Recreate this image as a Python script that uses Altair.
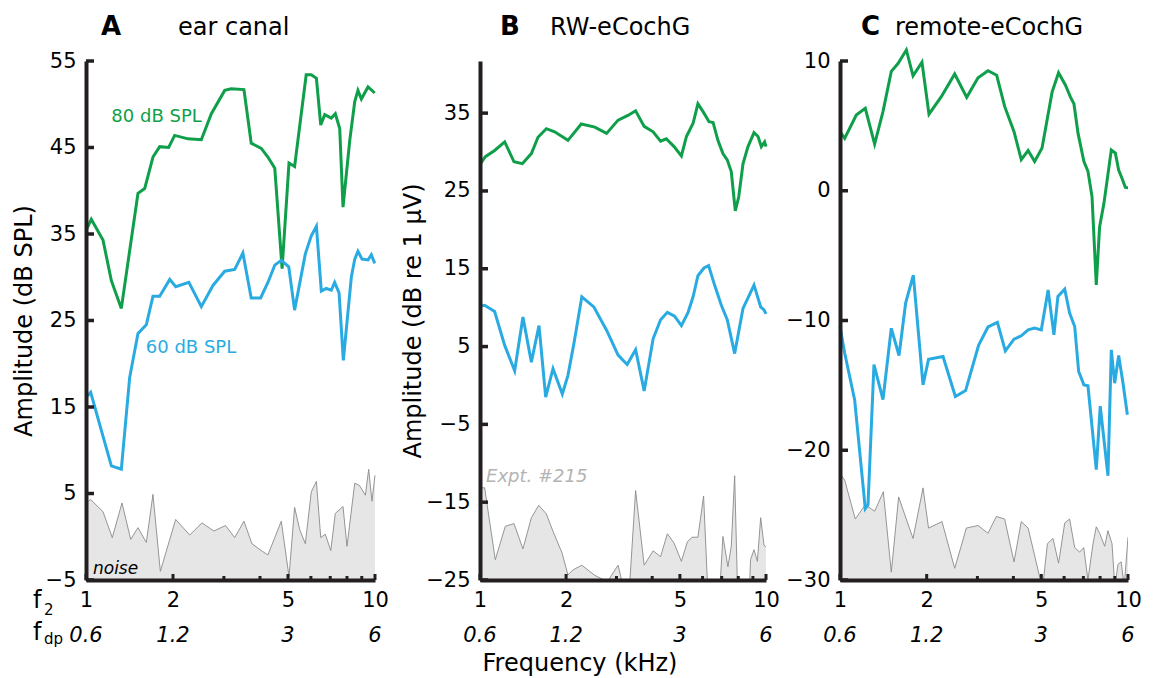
import altair as alt
import pandas as pd

FONT = "DejaVu Sans"
GREEN = "#0f9f4a"
BLUE = "#29abe2"
AXIS = "#231f20"
NOISE_FILL = "#e6e6e6"
NOISE_LINE = "#8a8a8a"

# ---------------- Panel A: ear canal (dB SPL) ----------------
A_green_f = [1.00, 1.043, 1.145, 1.224, 1.325, 1.513, 1.596, 1.705, 1.799, 1.932, 2.027, 2.254, 2.506, 2.715,
             3.02, 3.18, 3.52, 3.73, 4.04, 4.26, 4.50, 4.77, 5.04, 5.27, 5.78, 6.02, 6.27, 6.49, 6.70, 7.06,
             7.29, 7.55, 7.75, 8.18, 8.51, 8.73, 8.97, 9.46, 9.98]
A_green_v = [35.4, 36.7, 34.3, 29.6, 26.4, 39.7, 40.25, 43.9, 45.1, 45.0, 46.4, 46.0, 45.9, 48.9,
             51.6, 51.8, 51.7, 45.5, 44.9, 43.9, 42.6, 31.0, 43.2, 42.8, 53.4, 53.4, 53.0, 47.6, 48.8, 48.4,
             48.9, 47.2, 38.1, 45.85, 50.3, 51.6, 50.6, 52.0, 51.3]
A_blue_f = [1.00, 1.038, 1.13, 1.224, 1.325, 1.416, 1.513, 1.617, 1.705, 1.799, 1.949, 2.044, 2.27, 2.506,
            2.75, 3.02, 3.27, 3.49, 3.73, 4.02, 4.26, 4.50, 4.74, 5.03, 5.27, 5.74, 6.02, 6.27, 6.52, 6.78,
            7.06, 7.25, 7.51, 7.77, 8.28, 8.51, 8.73, 9.02, 9.46, 9.71, 9.98]
A_blue_v = [16.1, 16.7, 12.3, 8.2, 7.8, 18.4, 23.5, 24.5, 27.8, 27.8, 29.75, 28.9, 29.4, 26.6,
            29.05, 30.7, 30.9, 32.8, 27.6, 27.6, 29.4, 31.4, 31.95, 31.2, 26.2, 32.7, 34.8, 35.9, 28.4, 28.7,
            28.5, 29.4, 28.2, 20.4, 30.0, 32.1, 33.0, 32.1, 32.0, 32.6, 31.6]
A_noise_f = [1.00, 1.038, 1.145, 1.233, 1.332, 1.428, 1.513, 1.617, 1.705, 1.808, 2.043, 2.285, 2.52, 2.77,
             3.04, 3.27, 3.52, 3.75, 4.04, 4.26, 4.74, 5.04, 5.27, 5.49, 5.74, 6.02, 6.27, 6.49, 6.73, 7.03,
             7.29, 7.75, 8.0, 8.51, 8.85, 9.26, 9.51, 9.76, 10.0]
A_noise_v = [3.9, 4.3, 2.9, -0.1, 3.9, -0.3, 1.05, -0.66, 4.9, -4.0, 2.0, 0.2, 1.6, 0.66,
             1.3, -0.1, 1.8, -0.8, -1.6, -2.1, 1.8, -4.6, 3.4, 0.8, -0.8, 5.2, 6.4, -0.1, 0.3, -1.6,
             2.7, 3.5, -1.1, 6.2, 5.9, 4.8, 7.8, 4.1, 7.1]

# ---------------- Panel B: RW-eCochG (dB re 1 uV) ----------------
B_green_f = [1.0, 1.044, 1.125, 1.22, 1.315, 1.406, 1.512, 1.595, 1.706, 1.824, 2.03, 2.26, 2.52, 2.77,
             3.04, 3.29, 3.50, 3.75, 4.03, 4.28, 4.48, 4.77, 5.06, 5.27, 5.56, 5.78, 6.07, 6.32, 6.53, 6.79,
             7.07, 7.32, 7.56, 7.81, 8.03, 8.31, 8.65, 9.08, 9.38, 9.63, 9.89, 10.0]
B_green_v = [28.4, 29.4, 30.2, 31.3, 28.75, 28.5, 29.8, 31.9, 33.0, 32.6, 31.5, 33.6, 33.2, 32.4,
             34.1, 34.7, 35.3, 33.3, 32.6, 31.4, 31.7, 30.7, 29.5, 32.0, 33.7, 36.2, 35.0, 33.9, 33.8, 31.5,
             29.8, 29.0, 27.5, 22.45, 24.25, 28.5, 30.7, 32.5, 32.0, 30.7, 31.3, 30.7]
B_blue_f = [1.0, 1.038, 1.125, 1.22, 1.322, 1.413, 1.512, 1.608, 1.697, 1.80, 1.94, 2.03, 2.13, 2.27,
            2.50, 2.77, 3.04, 3.27, 3.50, 3.75, 4.03, 4.28, 4.52, 4.79, 5.06, 5.34, 5.56, 5.78, 6.07, 6.30,
            6.61, 6.98, 7.32, 7.77, 8.31, 8.61, 9.08, 9.58, 9.84, 10.0]
B_blue_v = [10.2, 10.3, 9.5, 5.15, 1.9, 8.8, 3.0, 7.7, -1.5, 2.15, -1.1, 1.3, 5.4, 11.4,
            10.1, 7.1, 3.9, 2.7, 4.6, -0.7, 6.0, 8.45, 9.4, 8.9, 7.7, 9.4, 11.4, 14.1, 15.1, 15.4,
            12.9, 10.3, 8.45, 4.1, 9.9, 11.1, 12.9, 10.1, 9.7, 9.2]
B_noise_f = [1.0, 1.038, 1.131, 1.226, 1.315, 1.413, 1.512, 1.604, 1.706, 1.80, 1.935, 2.03, 2.115, 2.27,
             2.52, 2.79, 3.04, 3.14, 3.24, 3.34, 3.50, 3.75, 4.03, 4.28, 4.52, 4.77, 5.06, 5.31, 5.51, 5.78,
             6.05, 6.24, 6.53, 6.92, 7.07, 7.36, 7.56, 7.77, 7.94, 8.31, 8.77, 8.83, 9.08, 9.33, 9.58, 9.84, 10.0]
B_noise_v = [-13.15, -13.15, -22.4, -18.1, -17.75, -21.0, -17.0, -15.4, -16.5, -18.75, -21.5, -24.35, -23.7, -23.1,
             -24.4, -25.2, -23.1, -25.3, -27.0, -25.3, -13.5, -23.1, -21.25, -22.0, -19.05, -20.25, -22.6, -20.1, -19.5, -19.5,
             -14.2, -25.3, -28.0, -25.3, -19.4, -23.3, -20.7, -11.6, -25.3, -28.0, -25.3, -22.4, -21.1, -22.6, -17.0, -20.5, -20.8]

# ---------------- Panel C: remote-eCochG ----------------
C_green_f = [1.0, 1.038, 1.139, 1.224, 1.319, 1.41, 1.507, 1.59, 1.70, 1.793, 1.926, 2.037, 2.248, 2.502,
             2.754, 3.015, 3.265, 3.50, 3.73, 4.02, 4.26, 4.50, 4.74, 5.03, 5.45, 5.74, 6.06, 6.32, 6.49, 6.71,
             7.03, 7.26, 7.50, 7.76, 7.97, 8.25, 8.75, 9.04, 9.28, 9.53, 9.79, 10.0]
C_green_v = [4.55, 4.04, 5.84, 6.35, 3.6, 6.1, 9.2, 9.8, 10.85, 8.85, 9.9, 5.9, 7.25, 9.0,
             7.2, 8.7, 9.25, 8.9, 6.5, 4.55, 2.4, 3.1, 2.25, 3.3, 7.6, 9.1, 8.15, 7.2, 6.7, 4.4,
             2.25, 1.5, -0.45, -7.26, -2.77, -0.97, 3.14, 2.9, 1.6, 0.96, 0.26, 0.24]
C_blue_f = [1.0, 1.038, 1.124, 1.224, 1.251, 1.312, 1.41, 1.507, 1.603, 1.69, 1.797, 1.942, 2.03, 2.279,
            2.515, 2.73, 3.03, 3.265, 3.52, 3.75, 4.02, 4.26, 4.50, 4.74, 5.0, 5.28, 5.53, 5.71, 6.03, 6.27,
            6.53, 6.74, 7.03, 7.26, 7.76, 8.01, 8.52, 8.75, 8.99, 9.28, 9.61, 9.95]
C_blue_v = [-10.46, -12.5, -16.1, -24.5, -24.2, -13.4, -16.1, -10.6, -12.7, -8.66, -6.5, -14.96, -12.98, -12.77,
            -15.86, -15.4, -11.9, -10.5, -10.15, -12.34, -11.44, -11.18, -10.72, -10.59, -10.72, -7.64, -11.1, -8.15, -7.59, -9.43,
            -10.46, -13.93, -14.96, -15.03, -21.5, -16.6, -21.97, -12.26, -14.83, -12.7, -14.83, -17.27]
C_noise_f = [1.0, 1.038, 1.13, 1.224, 1.319, 1.414, 1.507, 1.598, 1.793, 1.942, 2.03, 2.26, 2.502, 2.746,
             3.015, 3.265, 3.49, 3.73, 4.02, 4.26, 4.50, 4.94, 5.07, 5.25, 5.49, 5.74, 6.03, 6.27, 6.53, 6.79,
             7.02, 7.26, 7.56, 7.76, 7.97, 8.30, 8.52, 8.80, 9.0, 9.23, 9.47, 9.7, 10.0]
C_noise_v = [-21.8, -22.3, -25.3, -24.2, -24.7, -23.2, -29.4, -23.6, -26.8, -22.9, -26.0, -25.5, -29.1, -26.0,
             -25.8, -26.4, -25.1, -25.3, -28.6, -25.5, -26.0, -29.8, -30.3, -27.2, -26.8, -28.7, -25.6, -25.3, -27.5, -27.85,
             -27.5, -30.0, -27.2, -25.9, -26.4, -27.4, -26.2, -27.2, -30.5, -28.8, -28.6, -30.5, -26.7]

# axis tick values / labels
x_label_values = [1, 2, 5, 10]
x_minor_values = [3, 4, 6, 7, 8, 9]
fdp_labels = ["0.6", "1.2", "3", "6"]
A_yticks = [-5, 5, 15, 25, 35, 45, 55]
B_yticks = [-25, -15, -5, 5, 15, 25, 35]
C_yticks = [-30, -20, -10, 0, 10]

H = 519


def df(f, v):
    return pd.DataFrame({"f": f, "v": v})


def panel(width, xrange, ydomain, yticks, ytitle, titlepad, green, blue, noise,
          letter, letter_x, name, name_x, annotations=None, extra=None):
    xs = alt.Scale(type="log", domain=[1, 10], range=[0, xrange], nice=False)
    ys = alt.Scale(domain=ydomain, nice=False, zero=False)
    xaxis = alt.Axis(values=x_label_values, format="d", ticks=False, tickSize=0, grid=False,
                     domainColor=AXIS, domainWidth=4, labelFont=FONT, labelFontSize=21,
                     labelColor="black", labelPadding=9, labelFlush=False, labelOverlap=False,
                     title=None, zindex=1)
    yaxis_kw = dict(values=yticks, ticks=False, tickSize=0, grid=False, domainColor=AXIS, domainWidth=4,
                    labelFont=FONT, labelFontSize=21, labelColor="black", labelPadding=10,
                    labelFlush=False, labelOverlap=False, zindex=1)
    if ytitle:
        yaxis = alt.Axis(title=ytitle, titleFont=FONT, titleFontSize=24, titleFontWeight="normal",
                         titleColor="black", titlePadding=titlepad, **yaxis_kw)
    else:
        yaxis = alt.Axis(title=None, **yaxis_kw)
    X = alt.X("f:Q", scale=xs, axis=xaxis)
    Y = alt.Y("v:Q", scale=ys, axis=yaxis)

    ndf = df(*noise)
    area = alt.Chart(ndf).mark_area(clip=True, color=NOISE_FILL, opacity=1).encode(
        x=X, y=Y, y2=alt.datum(ydomain[0]))
    nline = alt.Chart(ndf).mark_line(clip=True, color=NOISE_LINE, strokeWidth=0.9).encode(x=X, y=Y)
    gline = alt.Chart(df(*green)).mark_line(color=GREEN, strokeWidth=3).encode(x=X, y=Y)
    bline = alt.Chart(df(*blue)).mark_line(color=BLUE, strokeWidth=3).encode(x=X, y=Y)

    ytk = alt.Chart(pd.DataFrame({"v": yticks})).mark_rule(color=AXIS, strokeWidth=3.5).encode(
        y=Y, x=alt.value(0), x2=alt.value(8))
    xmaj = alt.Chart(pd.DataFrame({"f": x_label_values})).mark_rule(color=AXIS, strokeWidth=3).encode(
        x=X, y=alt.value(H), y2=alt.value(H - 6))
    xmin = alt.Chart(pd.DataFrame({"f": x_minor_values})).mark_rule(color=AXIS, strokeWidth=3).encode(
        x=X, y=alt.value(H), y2=alt.value(H - 4))
    fdp = alt.Chart(pd.DataFrame({"f": x_label_values, "t": fdp_labels})).mark_text(
        font=FONT, fontSize=21, fontStyle="italic", color="black", align="center", baseline="alphabetic").encode(
        x=X, y=alt.value(H + 62), text="t:N")

    tl = alt.Chart(pd.DataFrame({"t": [letter]})).mark_text(
        font=FONT, fontSize=26, fontWeight="bold", color="black", align="left", baseline="alphabetic").encode(
        x=alt.value(letter_x), y=alt.value(-26), text="t:N")
    tn = alt.Chart(pd.DataFrame({"t": [name]})).mark_text(
        font=FONT, fontSize=24, color="black", align="left", baseline="alphabetic").encode(
        x=alt.value(name_x), y=alt.value(-26), text="t:N")

    layers = [area, nline, gline, bline, ytk, xmaj, xmin, fdp, tl, tn]
    if annotations:
        for a in annotations:
            adf = pd.DataFrame({"f": [a["f"]], "v": [a["v"]], "t": [a["text"]]})
            layers.append(alt.Chart(adf).mark_text(
                font=FONT, fontSize=a.get("size", 18), fontStyle=a.get("style", "normal"),
                color=a["color"], align="left", baseline="alphabetic").encode(x=X, y=Y, text="t:N"))
    if extra:
        layers.extend(extra)
    return alt.layer(*layers).properties(width=width, height=H)


# extra texts
frequency_title = alt.Chart(pd.DataFrame({"t": ["Frequency (kHz)"]})).mark_text(
    font=FONT, fontSize=24, color="black", align="center", baseline="alphabetic").encode(
    x=alt.value(100), y=alt.value(H + 91), text="t:N")

sub_texts = pd.DataFrame({
    "t": ["f", "2", "f", "dp"],
    "x": [-53, -42, -53, -42],
    "y": [H + 28, H + 35, H + 60, H + 64],
    "s": [24, 15, 24, 15],
})
f_labels = []
for _, r in sub_texts.iterrows():
    f_labels.append(alt.Chart(pd.DataFrame({"t": [r["t"]]})).mark_text(
        font=FONT, fontSize=int(r["s"]), color="black", align="left", baseline="alphabetic").encode(
        x=alt.value(float(r["x"])), y=alt.value(float(r["y"])), text="t:N"))

panelA = panel(
    320, 289, [-5, 55], A_yticks, "Amplitude (dB SPL)", 9,
    (A_green_f, A_green_v), (A_blue_f, A_blue_v), (A_noise_f, A_noise_v),
    "A", 15, "ear canal", 92,
    annotations=[
        {"f": 1.224, "v": 47.9, "text": "80 dB SPL", "color": GREEN},
        {"f": 1.61, "v": 21.2, "text": "60 dB SPL", "color": BLUE},
        {"f": 1.057, "v": -4.3, "text": "noise", "color": "black", "style": "italic", "size": 17},
    ],
    extra=f_labels,
)

panelB = panel(
    286, 286, [-25, 41.7], B_yticks, "Amplitude (dB re 1 \u03bcV)", 0,
    (B_green_f, B_green_v), (B_blue_f, B_blue_v), (B_noise_f, B_noise_v),
    "B", 20, "RW-eCochG", 70,
    annotations=[
        {"f": 1.05, "v": -12.4, "text": "Expt. #215", "color": "#b3b3b3", "style": "italic", "size": 18},
    ],
    extra=[frequency_title],
)

panelC = panel(
    288, 288, [-30, 10], C_yticks, None, 0,
    (C_green_f, C_green_v), (C_blue_f, C_blue_v), (C_noise_f, C_noise_v),
    "C", 21, "remote-eCochG", 55,
)

chart = alt.hconcat(panelA, panelB, panelC, spacing=74, bounds="flush").resolve_scale(
    x="independent", y="independent"
).properties(
    padding={"left": 4, "top": 6, "right": 5, "bottom": 5}
).configure(
    font=FONT
).configure_view(
    stroke=None, strokeWidth=0
).configure_axis(
    grid=False
)

chart.save("out.html", embed_options={"renderer": "svg", "actions": False})
